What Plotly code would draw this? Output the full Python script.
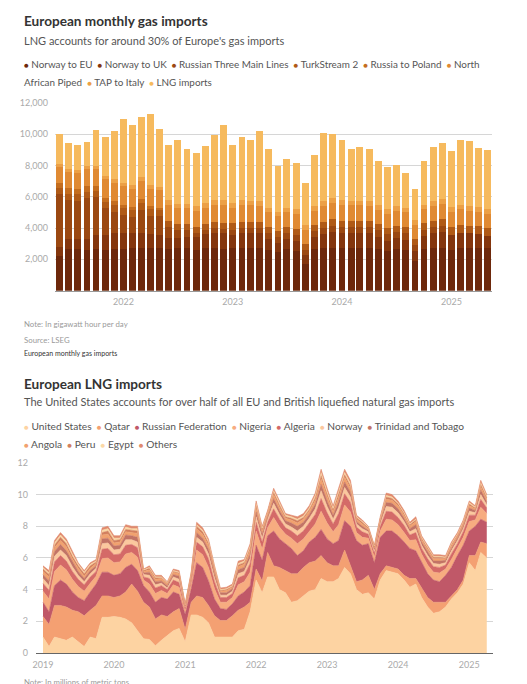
import plotly.graph_objects as go
import pandas as pd

W, H = 527, 684

# ---------------- Top chart data (GWh/day) ----------------
months_top = [d.strftime("%Y-%m-%d") for d in pd.date_range("2021-06-01", periods=48, freq="MS")]

norway_eu = [2240,2650,2650,2600,2650,2600,2650,2650,2700,2700,2700,2700,
             2650,2700,2700,2600,2700,2700,2650,2700,2700,2700,2750,2600,
             2450,2650,2550,1700,2650,2700,2750,2700,2700,2700,2750,2650,
             2500,2650,2600,1900,2650,2700,2750,2600,2750,2750,2750,2700]
norway_uk = [530,650,650,700,900,950,1000,1000,1000,950,900,850,
             700,650,700,800,900,1000,1000,850,950,950,900,700,
             600,650,650,550,800,900,1000,950,950,950,900,800,
             700,700,650,600,850,950,1000,950,950,900,850,800]
russian_three = [3410,2500,2450,2600,2400,1700,1400,1200,1000,1500,1150,1200,
                 700,500,450,250,250,300,300,350,350,350,350,350,
                 350,350,350,350,350,400,400,400,400,400,400,400,
                 400,400,400,400,400,400,400,0,0,0,0,0]
turkstream = [400,400,400,400,400,400,450,450,450,450,450,450,
              400,400,400,400,400,400,400,400,400,400,400,400,
              400,400,400,400,400,400,400,400,400,400,400,400,
              400,400,400,400,400,400,400,500,500,500,500,500]
russia_poland = [300,350,350,350,300,250,200,150,200,250,200,100,
                 0,0,0,0,0,0,0,0,0,0,0,0,
                 0,0,0,0,0,0,0,0,0,0,0,0,
                 0,0,0,0,0,0,0,0,0,0,0,0]
north_africa = [1000,1000,1000,1100,1100,1200,1200,1200,1150,1150,1100,1100,
                1050,1000,1000,1050,1050,1100,1150,1000,1100,1050,1000,950,
                950,950,950,900,900,1000,1050,1050,1000,1000,950,900,
                900,950,950,900,900,950,1000,1000,1000,950,950,900]
tap_italy = [210,230,230,230,230,230,230,230,230,230,230,230,
             300,300,300,300,300,300,300,300,300,300,300,300,
             300,300,300,300,300,300,300,300,300,300,300,300,
             300,300,300,300,300,300,300,300,300,300,300,300]
lng_imports = [1910,1660,1580,1540,2290,2450,3090,4050,3860,3870,4580,3700,
               3510,4040,3500,3400,3620,4150,4770,3670,4020,3840,4520,3750,
               2900,3110,2940,2680,3270,4380,4090,3830,3300,3410,3330,2810,
               2720,2610,2220,2020,2790,3460,3570,3550,4150,4140,3790,3750]

top_names = ["Norway to EU", "Norway to UK", "Russian Three Main Lines", "TurkStream 2",
             "Russia to Poland", "North African Piped", "TAP to Italy", "LNG imports"]
top_series = [norway_eu, norway_uk, russian_three, turkstream, russia_poland,
              north_africa, tap_italy, lng_imports]
top_colors = ["#6d280b", "#84360d", "#9b4811", "#b05a16", "#c46d1e",
              "#e08a33", "#eca046", "#f6ba5e"]
top_yticks = [2000, 4000, 6000, 8000, 10000, 12000]
top_yticklabels = ["2,000", "4,000", "6,000", "8,000", "10,000", "12,000"]

# ---------------- Bottom chart data (million metric tons) ----------------
months_bot = [d.strftime("%Y-%m-%d") for d in pd.date_range("2019-01-01", periods=76, freq="MS")]

united_states = [1.0,0.4,1.0,0.9,0.8,1.0,0.7,0.4,1.0,0.9,
                 2.25,2.25,2.3,2.25,2.15,1.9,1.4,0.9,0.85,0.45,
                 0.8,1.1,1.4,1.55,0.7,2.4,2.4,2.25,1.9,1.0,
                 1.0,1.0,1.0,1.4,1.5,2.6,4.6,3.8,4.8,4.8,
                 4.0,3.8,3.2,3.3,3.6,3.9,4.0,4.7,4.5,4.5,
                 4.7,5.4,5.0,4.0,3.7,3.8,3.4,4.6,5.2,5.1,
                 5.0,4.6,4.15,4.35,3.5,2.9,2.5,2.6,2.9,3.4,
                 3.8,4.35,5.7,5.2,6.35,6.0]
qatar = [1.3,1.4,2.0,2.1,2.1,1.7,1.9,1.95,1.7,2.1,
         1.35,1.35,1.2,1.35,1.7,2.45,2.5,2.3,2.05,1.7,
         1.6,1.2,1.2,1.25,0.8,0.8,1.2,1.25,1.1,1.35,
         1.05,1.05,1.35,1.3,1.4,0.6,0.7,0.75,1.55,0.7,
         1.4,1.4,1.8,1.7,1.8,1.8,1.8,1.45,1.2,1.0,
         0.8,1.1,0.5,0.5,0.9,1.1,0.6,0.4,0.3,0.3,
         0.3,0.3,0.55,0.35,0.65,0.6,0.7,0.6,0.3,0.2,
         0.2,0.25,0.45,0.95,0.65,0.9]
russian_federation = [0.9,0.8,1.25,1.6,1.45,1.15,0.9,0.95,1.15,1.35,
                      1.5,1.5,1.4,1.4,1.55,1.25,1.3,1.05,0.95,1.05,
                      1.1,1.1,1.25,0.9,0.95,0.85,2.1,1.9,1.55,1.05,
                      0.75,0.7,0.75,0.9,0.95,1.05,1.5,1.3,1.05,2.2,
                      1.8,1.7,1.6,1.15,1.05,1.3,1.5,1.65,1.5,1.4,
                      1.6,1.85,2.5,2.6,2.2,2.0,1.7,2.3,2.2,2.3,
                      2.1,2.1,1.9,1.75,1.55,1.5,1.4,1.3,1.7,1.8,
                      2.15,2.2,1.55,1.85,1.45,1.35]
nigeria = [0.7,0.8,0.9,0.95,0.9,0.8,0.7,0.6,0.55,0.5,
           0.85,0.9,0.8,0.75,0.85,0.75,0.85,0.35,0.5,0.55,
           0.45,0.35,0.45,0.45,0.2,0.35,0.8,0.8,0.85,0.65,
           0.4,0.45,0.4,0.7,0.65,0.85,0.9,0.7,0.5,0.85,
           0.75,0.6,0.65,0.75,0.75,0.7,0.85,1.15,1.0,0.75,
           1.0,1.0,0.9,0.5,0.5,0.35,0.35,0.4,0.75,0.7,
           0.7,0.6,0.5,0.7,0.55,0.55,0.5,0.55,0.4,0.5,
           0.45,0.5,0.6,0.4,0.75,0.55]
algeria = [0.5,0.55,0.6,0.6,0.55,0.5,0.45,0.4,0.4,0.3,
           0.6,0.6,0.5,0.5,0.55,0.5,0.6,0.2,0.35,0.35,
           0.3,0.25,0.3,0.3,0.15,0.2,0.5,0.5,0.55,0.45,
           0.3,0.3,0.25,0.45,0.4,0.55,0.55,0.45,0.35,0.55,
           0.5,0.4,0.45,0.5,0.5,0.5,0.6,0.8,0.65,0.5,
           0.7,0.7,0.6,0.35,0.35,0.25,0.25,0.3,0.5,0.5,
           0.45,0.45,0.35,0.45,0.35,0.4,0.35,0.35,0.25,0.35,
           0.3,0.35,0.4,0.3,0.5,0.35]
norway = [0.3,0.3,0.35,0.35,0.35,0.3,0.25,0.2,0.2,0.2,
          0.35,0.35,0.3,0.3,0.35,0.3,0.35,0.15,0.2,0.2,
          0.15,0.1,0.2,0.2,0.1,0.15,0.3,0.3,0.3,0.25,
          0.15,0.15,0.15,0.25,0.25,0.3,0.35,0.25,0.2,0.35,
          0.3,0.25,0.25,0.3,0.3,0.3,0.35,0.5,0.4,0.3,
          0.4,0.4,0.35,0.2,0.2,0.15,0.15,0.15,0.3,0.3,
          0.3,0.25,0.2,0.25,0.2,0.2,0.2,0.2,0.15,0.2,
          0.2,0.2,0.25,0.15,0.3,0.2]
trinidad = [0.25,0.3,0.3,0.35,0.3,0.3,0.25,0.2,0.2,0.15,
            0.3,0.3,0.25,0.25,0.3,0.25,0.3,0.1,0.2,0.2,
            0.15,0.15,0.15,0.2,0.05,0.1,0.3,0.25,0.3,0.25,
            0.15,0.15,0.15,0.25,0.25,0.3,0.3,0.25,0.15,0.3,
            0.25,0.2,0.25,0.3,0.25,0.25,0.3,0.4,0.35,0.25,
            0.35,0.35,0.3,0.15,0.15,0.1,0.1,0.15,0.25,0.25,
            0.25,0.2,0.2,0.25,0.2,0.2,0.15,0.2,0.15,0.15,
            0.15,0.15,0.2,0.15,0.3,0.2]
angola = [0.2,0.25,0.25,0.25,0.25,0.2,0.2,0.15,0.15,0.15,
          0.25,0.25,0.2,0.2,0.2,0.2,0.25,0.1,0.15,0.15,
          0.15,0.1,0.15,0.15,0.05,0.1,0.25,0.25,0.25,0.2,
          0.1,0.15,0.1,0.2,0.2,0.25,0.25,0.2,0.15,0.25,
          0.2,0.15,0.2,0.2,0.2,0.2,0.25,0.35,0.3,0.2,
          0.3,0.3,0.25,0.15,0.15,0.1,0.1,0.1,0.2,0.2,
          0.2,0.2,0.15,0.2,0.15,0.15,0.15,0.15,0.1,0.15,
          0.15,0.15,0.15,0.1,0.2,0.15]
peru = [0.15,0.15,0.15,0.2,0.2,0.15,0.15,0.15,0.15,0.1,
        0.15,0.2,0.15,0.15,0.15,0.15,0.15,0.05,0.1,0.1,
        0.05,0.05,0.05,0.05,0.03,0.05,0.15,0.15,0.15,0.1,
        0.05,0.05,0.05,0.1,0.1,0.15,0.15,0.1,0.1,0.15,
        0.15,0.1,0.1,0.15,0.1,0.1,0.15,0.2,0.15,0.15,
        0.2,0.15,0.15,0.1,0.1,0.05,0.05,0.05,0.15,0.1,
        0.1,0.1,0.1,0.1,0.1,0.1,0.1,0.1,0.05,0.1,
        0.05,0.1,0.1,0.05,0.15,0.1]
egypt = [0.1,0.1,0.15,0.15,0.15,0.15,0.1,0.1,0.1,0.05,
         0.15,0.15,0.15,0.1,0.15,0.1,0.15,0.05,0.05,0.05,
         0.05,0.05,0.05,0.05,0.02,0.05,0.1,0.1,0.1,0.1,
         0.05,0.05,0.05,0.1,0.1,0.1,0.15,0.1,0.05,0.1,
         0.1,0.1,0.1,0.1,0.1,0.1,0.15,0.2,0.15,0.1,
         0.15,0.15,0.15,0.05,0.05,0.05,0.05,0.05,0.1,0.1,
         0.05,0.05,0.05,0.05,0.05,0.05,0.05,0.05,0.05,0.05,
         0.05,0.05,0.1,0.05,0.1,0.1]
others = [0.1,0.15,0.15,0.15,0.15,0.15,0.1,0.1,0.1,0.1,
          0.15,0.15,0.15,0.15,0.15,0.15,0.15,0.05,0.1,0.1,
          0.1,0.05,0.1,0.1,0.05,0.05,0.15,0.15,0.15,0.1,
          0.1,0.1,0.1,0.15,0.1,0.15,0.15,0.1,0.1,0.15,
          0.15,0.1,0.1,0.15,0.15,0.15,0.15,0.2,0.2,0.15,
          0.2,0.2,0.2,0.1,0.1,0.05,0.05,0.1,0.15,0.15,
          0.15,0.15,0.1,0.15,0.1,0.15,0.1,0.1,0.1,0.1,
          0.1,0.1,0.1,0.1,0.15,0.1]

bot_names = ["United States", "Qatar", "Russian Federation", "Nigeria", "Algeria", "Norway",
             "Trinidad and Tobago", "Angola", "Peru", "Egypt", "Others"]
bot_series = [united_states, qatar, russian_federation, nigeria, algeria, norway,
              trinidad, angola, peru, egypt, others]
bot_colors = ["#fdd3a2", "#f4a072", "#c05868", "#f7ac80", "#d46a68", "#fbc89e",
              "#c27466", "#f1a26f", "#d2805f", "#fcd9a6", "#e08a6e"]
bot_yticks = [0, 2, 4, 6, 8, 10, 12]

FONT = "Lato"

def px(x):
    return x / W

def py(y):
    return 1 - y / H

fig = go.Figure()

for name, vals, col in zip(top_names, top_series, top_colors):
    fig.add_trace(go.Bar(x=months_top, y=vals, name=name, marker=dict(color=col, line=dict(width=0)),
                         xaxis="x", yaxis="y", showlegend=False))

for name, vals, col in zip(bot_names, bot_series, bot_colors):
    n = min(len(vals), len(months_bot))
    fig.add_trace(go.Scatter(x=months_bot[:n], y=vals[:n], name=name, mode="lines",
                             stackgroup="lng", line=dict(color=col, width=0.6),
                             fillcolor=col, xaxis="x2", yaxis="y2", showlegend=False))

def legend_line(items):
    parts = []
    for name, col in items:
        parts.append(f'<span style="color:{col};font-size:8px">●</span>&nbsp;{name}')
    return "&nbsp;&nbsp;".join(parts)

annotations = []

def txt(x, y, text, size, color, bold=False):
    if bold:
        text = f"<b>{text}</b>"
    annotations.append(dict(x=px(x), y=py(y), xref="paper", yref="paper", text=text,
                            showarrow=False, xanchor="left", yanchor="middle",
                            font=dict(family=FONT, size=size, color=color)))

LX = 19
txt(LX, 15, "European monthly gas imports", 13.6, "#333333", bold=True)
txt(LX, 35.5, "LNG accounts for around 30% of Europe's gas imports", 11, "#555555")
top_legend1 = legend_line(list(zip(top_names[:5], top_colors[:5]))) + \
    f'&nbsp;&nbsp;<span style="color:{top_colors[5]};font-size:8px">●</span>&nbsp;North'
top_legend2 = "African Piped&nbsp;&nbsp;" + legend_line(list(zip(top_names[6:], top_colors[6:])))
txt(LX, 58.6, top_legend1, 9.9, "#555555")
txt(LX, 77, top_legend2, 9.9, "#555555")
txt(LX, 323, "Note: In gigawatt hour per day", 7.8, "#9a9a9a")
txt(LX, 339, "Source: LSEG", 7.8, "#9a9a9a")
txt(LX, 352.5, "European monthly gas imports", 7, "#333333")

txt(LX, 384, "European LNG imports", 13.6, "#333333", bold=True)
txt(LX, 402, "The United States accounts for over half of all EU and British liquefied natural gas imports", 11, "#555555")
bot_legend1 = legend_line(list(zip(bot_names[:7], bot_colors[:7])))
bot_legend2 = legend_line(list(zip(bot_names[7:], bot_colors[7:])))
txt(LX, 426.5, bot_legend1, 10.2, "#555555")
txt(LX, 445, bot_legend2, 10.2, "#555555")
txt(LX, 687, "Note: In millions of metric tons", 7.8, "#9a9a9a")

tickfont = dict(family=FONT, size=9, color="#aaaaaa")

fig.update_layout(
    width=W, height=H, margin=dict(l=0, r=0, t=0, b=0),
    paper_bgcolor="white", plot_bgcolor="white",
    barmode="stack", bargap=0.18,
    font=dict(family=FONT),
    annotations=annotations,
    xaxis=dict(domain=[px(52), px(492)], anchor="y", type="date",
               range=["2021-05-16", "2025-05-17"],
               tickvals=["2022-01-01", "2023-01-01", "2024-01-01", "2025-01-01"],
               ticktext=["2022", "2023", "2024", "2025"],
               showgrid=False, zeroline=False, showline=True, linecolor="#999999", linewidth=1,
               ticks="outside", ticklen=3, tickcolor="rgba(0,0,0,0)", tickfont=tickfont),
    yaxis=dict(domain=[py(289.3), py(98.3)], anchor="x", range=[0, 12000],
               tickvals=top_yticks, ticktext=top_yticklabels,
               showgrid=True, gridcolor="#d6d6d6", gridwidth=1, zeroline=False,
               ticks="outside", ticklen=4, tickcolor="rgba(0,0,0,0)", tickfont=tickfont),
    xaxis2=dict(domain=[px(33), px(493)], anchor="y2", type="date",
                range=["2018-11-25", "2025-05-04"],
                tickvals=["2019-01-01", "2020-01-01", "2021-01-01", "2022-01-01",
                          "2023-01-01", "2024-01-01", "2025-01-01"],
                ticktext=["2019", "2020", "2021", "2022", "2023", "2024", "2025"],
                showgrid=False, zeroline=False, showline=True, linecolor="#666666", linewidth=1,
                ticks="outside", ticklen=3, tickcolor="rgba(0,0,0,0)", tickfont=tickfont),
    yaxis2=dict(domain=[py(657.5), py(464.4)], anchor="x2", range=[0, 12],
                tickvals=bot_yticks, ticktext=[str(v) for v in bot_yticks],
                showgrid=True, gridcolor="#d6d6d6", gridwidth=1, zeroline=False,
                ticks="outside", ticklen=5, tickcolor="rgba(0,0,0,0)", tickfont=tickfont),
)

fig.write_html("out.html", config={"displayModeBar": False},
               post_script="document.body.style.margin='0';document.body.style.overflow='hidden';")
